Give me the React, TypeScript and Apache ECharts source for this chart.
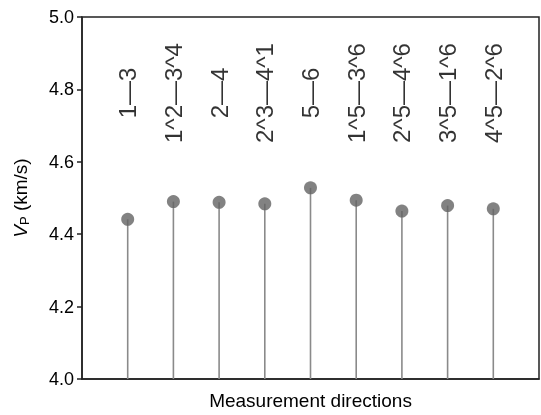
import React, { useEffect, useRef } from "react";
import * as echarts from "echarts";

const directions = ["1—3", "1^2—3^4", "2—4", "2^3—4^1", "5—6", "1^5—3^6", "2^5—4^6", "3^5—1^6", "4^5—2^6"];
const vpValues = [4.441, 4.49, 4.488, 4.484, 4.528, 4.494, 4.464, 4.479, 4.47];
const yTicks = [4.0, 4.2, 4.4, 4.6, 4.8, 5.0];
const LABEL_Y = 4.79;

const FONT = "'Liberation Sans', Arial, Helvetica, sans-serif";

export default function App() {
  const ref = useRef<HTMLDivElement>(null);
  useEffect(() => {
    if (!ref.current) return;
    const chart = echarts.init(ref.current, null, { renderer: "svg" });
    const pts = vpValues.map((v, i) => [i + 1, v]);
    chart.setOption({
      animation: false,
      textStyle: { fontFamily: FONT },
      grid: {
        left: 82,
        right: 2,
        top: 17,
        bottom: 35,
        show: true,
        borderColor: "#222",
        borderWidth: 1.5,
        backgroundColor: "transparent",
      },
      xAxis: {
        type: "value",
        min: 0,
        max: directions.length + 1,
        interval: 1,
        axisLabel: { show: false },
        axisTick: { show: false },
        splitLine: { show: false },
        axisLine: { show: true, lineStyle: { color: "#222", width: 1.5 } },
        name: "Measurement directions",
        nameLocation: "middle",
        nameGap: 12,
        nameTextStyle: { fontSize: 19, color: "#000", fontFamily: FONT, verticalAlign: "top" },
      },
      yAxis: {
        type: "value",
        min: yTicks[0],
        max: yTicks[yTicks.length - 1],
        interval: 0.2,
        axisLabel: {
          formatter: (v: number) => v.toFixed(1),
          fontSize: 18,
          color: "#000",
          margin: 8,
          fontFamily: FONT,
        },
        axisTick: { show: true, inside: false, length: 5, lineStyle: { color: "#222", width: 1.5 } },
        axisLine: { show: true, lineStyle: { color: "#222", width: 1.5 } },
        splitLine: { show: false },
        name: "{v|V}{p|P} (km/s)",
        nameLocation: "middle",
        nameGap: 51,
        nameRotate: 90,
        nameTextStyle: {
          fontSize: 19,
          color: "#000",
          fontFamily: FONT,
          rich: {
            v: { fontSize: 19, fontStyle: "italic", fontFamily: FONT, color: "#000" },
            p: { fontSize: 13, fontFamily: FONT, color: "#000", verticalAlign: "bottom", padding: [8, 0, 0, 0] },
          },
        },
      },
      series: [
        {
          type: "custom",
          data: pts,
          renderItem: (params: any, api: any) => {
            const top = api.coord([api.value(0), api.value(1)]);
            const base = api.coord([api.value(0), yTicks[0]]);
            return {
              type: "line",
              shape: { x1: top[0], y1: top[1], x2: base[0], y2: base[1] },
              style: { stroke: "#8a8a8a", lineWidth: 1.6 },
            };
          },
          z: 1,
        },
        {
          type: "scatter",
          data: pts,
          symbol: "circle",
          symbolSize: 13,
          itemStyle: { color: "#636363" },
          z: 3,
        },
        {
          type: "scatter",
          data: directions.map((d, i) => ({ value: [i + 1, LABEL_Y], name: d })),
          symbolSize: 0,
          label: {
            show: true,
            position: "inside",
            rotate: 90,
            align: "center",
            verticalAlign: "middle",
            formatter: (p: any) => p.name,
            fontSize: 24,
            color: "#000",
            fontFamily: FONT,
          },
          z: 4,
        },
      ],
    });
    return () => chart.dispose();
  }, []);
  return <div ref={ref} style={{ position: "fixed", left: 0, top: 0, width: 541, height: 415 }} />;
}
